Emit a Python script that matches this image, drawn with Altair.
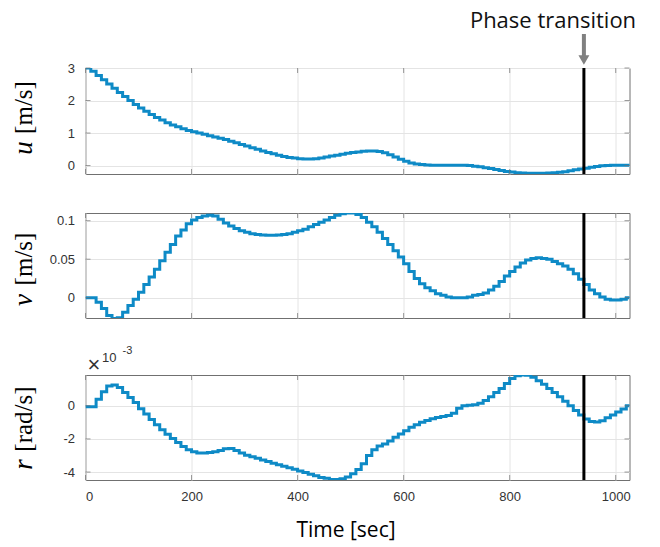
import altair as alt
import pandas as pd

# ---------------- data ----------------
time_s = list(range(0, 1040, 10))

u_vals = [3.0, 2.9, 2.77, 2.64, 2.51, 2.38, 2.25, 2.12, 2.0, 1.88,
          1.77, 1.67, 1.57, 1.48, 1.4, 1.32, 1.25, 1.19, 1.13, 1.08,
          1.04, 1.0, 0.96, 0.92, 0.88, 0.84, 0.8, 0.75, 0.7, 0.65,
          0.6, 0.55, 0.5, 0.45, 0.4, 0.36, 0.32, 0.28, 0.25, 0.23,
          0.21, 0.2, 0.2, 0.21, 0.23, 0.26, 0.29, 0.32, 0.35, 0.38,
          0.4, 0.42, 0.44, 0.45, 0.45, 0.43, 0.39, 0.33, 0.26, 0.19,
          0.13, 0.08, 0.05, 0.03, 0.02, 0.01, 0.01, 0.01, 0.01, 0.01,
          0.01, 0.01, 0.0, -0.02, -0.04, -0.07, -0.09, -0.12, -0.15, -0.18,
          -0.2, -0.22, -0.23, -0.24, -0.24, -0.24, -0.24, -0.23, -0.22, -0.21,
          -0.19, -0.16, -0.13, -0.11, -0.08, -0.05, -0.03, -0.01, 0.0, 0.01,
          0.01, 0.01, 0.01, 0.01]

v_vals = [0.0, 0.0, -0.006, -0.014, -0.023, -0.027, -0.026, -0.019, -0.01, -0.002,
          0.007, 0.017, 0.027, 0.037, 0.048, 0.059, 0.069, 0.08, 0.088, 0.096,
          0.101, 0.104, 0.106, 0.107, 0.106, 0.102, 0.097, 0.093, 0.09, 0.087,
          0.085, 0.083, 0.082, 0.0815, 0.081, 0.081, 0.0815, 0.082, 0.083, 0.085,
          0.087, 0.089, 0.092, 0.095, 0.098, 0.101, 0.104, 0.107, 0.109, 0.11,
          0.11, 0.108, 0.104, 0.098, 0.092, 0.085, 0.077, 0.069, 0.061, 0.053,
          0.044, 0.034, 0.025, 0.018, 0.013, 0.009, 0.005, 0.003, 0.001, 0.0,
          0.0, 0.0, 0.001, 0.003, 0.004, 0.006, 0.01, 0.015, 0.021, 0.028,
          0.034, 0.04, 0.045, 0.049, 0.051, 0.052, 0.051, 0.05, 0.047, 0.044,
          0.041, 0.037, 0.031, 0.024, 0.017, 0.01, 0.005, 0.001, -0.002, -0.003,
          -0.003, -0.002, 0.0, 0.0]

r_vals = [-0.05, -0.05, 0.4, 0.85, 1.2, 1.25, 1.1, 0.8, 0.5, 0.2,
          -0.18, -0.5, -0.82, -1.14, -1.44, -1.72, -1.98, -2.22, -2.45, -2.65,
          -2.78, -2.85, -2.85, -2.82, -2.77, -2.7, -2.6, -2.58, -2.7, -2.85,
          -2.98, -3.08, -3.17, -3.27, -3.37, -3.47, -3.56, -3.65, -3.74, -3.83,
          -3.93, -4.03, -4.13, -4.23, -4.33, -4.38, -4.45, -4.45, -4.4, -4.3,
          -4.1, -3.85, -3.5, -3.0, -2.65, -2.42, -2.3, -2.12, -1.9, -1.7,
          -1.5, -1.3, -1.15, -1.0, -0.88, -0.78, -0.7, -0.65, -0.58, -0.45,
          -0.15, 0.0, 0.04, 0.06, 0.15, 0.32, 0.55, 0.8, 1.05, 1.35,
          1.65, 1.82, 1.86, 1.85, 1.72, 1.52, 1.3, 1.05, 0.8, 0.55,
          0.28, 0.0, -0.28, -0.55, -0.8, -0.95, -0.98, -0.9, -0.72, -0.55,
          -0.38, -0.2, 0.0, 0.05]

x_ticks = [0, 200, 400, 600, 800, 1000]
u_ticks = [0, 1, 2, 3]
v_ticks = [0, 0.05, 0.1]
r_ticks = [-4, -2, 0]

panel_letters = ["u", "v", "r"]
panel_units = ["[m/s]", "[m/s]", "[rad/s]"]
x_title = "Time [sec]"
phase_label = "Phase transition"
phase_time = 940
exp_parts = ["×", "10", "-3"]

# ---------------- style ----------------
W = 544
BLUE = "#0e8ac6"
BOX = "#707070"
GRID = "#e4e4e4"
LABEL = "#333333"
SANS = "Liberation Sans"
SERIF = "Liberation Serif"
XDOM = [0, 1026]
TITLE_X = -53.5


def one(**kw):
    return pd.DataFrame({k: [v] for k, v in kw.items()})


def spacer(top_px):
    # invisible element that reserves space above a panel in the layout
    return alt.Chart(one(k=0)).mark_rule(opacity=0).encode(
        x=alt.value(0), y=alt.value(-top_px), y2=alt.value(0))


def x_axis(bottom):
    if bottom:
        return alt.Axis(values=x_ticks, grid=True, gridColor=GRID, ticks=False, domain=False,
                        labels=True, labelFont=SANS, labelFontSize=13, labelColor=LABEL,
                        labelPadding=10, labelExpr="datum.value + ''",
                        title=x_title, titleFont="Open Sans",
                        titleFontSize=21, titleFontWeight="normal", titleColor="#000000",
                        titleX=260, titleY=56, titleBaseline="alphabetic", titleAlign="center")
    return alt.Axis(values=x_ticks, grid=True, gridColor=GRID, ticks=False, domain=False,
                    labels=False, title=None)


def y_axis(yticks):
    return alt.Axis(values=yticks, grid=True, gridColor=GRID, ticks=False, domain=False,
                    labelFont=SANS, labelFontSize=13, labelColor=LABEL, labelPadding=11,
                    labelExpr="datum.value + ''", title=None)


def panel(var, vals, domain, yticks, height, letter, unit, unit_y, letter_y, bottom):
    df = pd.DataFrame({"t": time_s, var: vals})
    xs = alt.Scale(domain=XDOM, nice=False, zero=False)
    ys = alt.Scale(domain=domain, nice=False, zero=False)
    xa = x_axis(bottom)
    ya = y_axis(yticks)

    line = alt.Chart(df).mark_line(
        interpolate="step-after", color=BLUE, strokeWidth=3, clip=True
    ).encode(
        x=alt.X("t:Q", scale=xs, axis=xa),
        y=alt.Y(f"{var}:Q", scale=ys, axis=ya),
    )
    phase = alt.Chart(one(pt=phase_time)).mark_rule(color="black", strokeWidth=3).encode(
        x=alt.X("pt:Q", scale=xs, axis=xa)
    )
    xt = pd.DataFrame({"xt": x_ticks})
    yt = pd.DataFrame({"yt": yticks})
    tick_style = dict(color=BOX, thickness=1, size=5)
    xt_bot = alt.Chart(xt).mark_tick(orient="vertical", **tick_style).encode(
        x=alt.X("xt:Q", scale=xs, axis=xa), y=alt.value(height - 2.5))
    xt_top = alt.Chart(xt).mark_tick(orient="vertical", **tick_style).encode(
        x=alt.X("xt:Q", scale=xs, axis=xa), y=alt.value(2.5))
    yt_l = alt.Chart(yt).mark_tick(orient="horizontal", **tick_style).encode(
        y=alt.Y("yt:Q", scale=ys, axis=ya), x=alt.value(2.5))
    yt_r = alt.Chart(yt).mark_tick(orient="horizontal", **tick_style).encode(
        y=alt.Y("yt:Q", scale=ys, axis=ya), x=alt.value(W - 2.5))

    unit_t = alt.Chart(one(s=unit)).mark_text(
        font=SERIF, fontSize=25, angle=270, align="center", baseline="alphabetic", color="black"
    ).encode(x=alt.value(TITLE_X), y=alt.value(unit_y), text="s:N")
    letter_t = alt.Chart(one(s=letter)).mark_text(
        font=SERIF, fontSize=27, fontStyle="italic", angle=270, align="center",
        baseline="alphabetic", color="black"
    ).encode(x=alt.value(TITLE_X), y=alt.value(letter_y), text="s:N")

    return [line, phase, xt_bot, xt_top, yt_l, yt_r, unit_t, letter_t], xs


top_layers, xs_top = panel("u", u_vals, [-0.26, 3.0], u_ticks, 106, panel_letters[0], panel_units[0], 39.5, 80, False)
mid_layers, _ = panel("v", v_vals, [-0.0264, 0.11], v_ticks, 105, panel_letters[1], panel_units[1], 46, 87, False)
bot_layers, _ = panel("r", r_vals, [-4.48, 1.86], r_ticks, 105, panel_letters[2], panel_units[2], 44, 89.5, True)

# annotation above top panel
ann_text = alt.Chart(one(s=phase_label)).mark_text(
    font="Open Sans", fontSize=22, align="center", baseline="alphabetic", color="#111111"
).encode(x=alt.value(467.5), y=alt.value(-40), text="s:N")
arrow_shaft = alt.Chart(one(pt=phase_time)).mark_rule(color="#808080", strokeWidth=4).encode(
    x=alt.X("pt:Q", scale=xs_top, axis=x_axis(False)),
    y=alt.value(-34), y2=alt.value(-12))
arrow_head = alt.Chart(one(pt=phase_time)).mark_point(
    shape="triangle-down", filled=True, color="#808080", size=120, opacity=1
).encode(
    x=alt.X("pt:Q", scale=xs_top, axis=x_axis(False)),
    y=alt.value(-8))

# exponent label above bottom panel
exp_x = alt.Chart(one(s=exp_parts[0])).mark_text(
    font=SANS, fontSize=22, align="center", baseline="middle", color=LABEL
).encode(x=alt.value(8.5), y=alt.value(-10), text="s:N")
exp_10 = alt.Chart(one(s=exp_parts[1])).mark_text(
    font=SANS, fontSize=13, align="left", baseline="alphabetic", color=LABEL
).encode(x=alt.value(16.5), y=alt.value(-13), text="s:N")
exp_3 = alt.Chart(one(s=exp_parts[2])).mark_text(
    font=SANS, fontSize=11, align="left", baseline="alphabetic", color=LABEL
).encode(x=alt.value(37), y=alt.value(-21), text="s:N")

top = alt.layer(*top_layers, ann_text, arrow_shaft, arrow_head).properties(width=W, height=106)
mid = alt.layer(*mid_layers, spacer(22)).properties(width=W, height=105)
bot = alt.layer(*bot_layers, exp_x, exp_10, exp_3, spacer(40)).properties(width=W, height=105)

chart = alt.vconcat(top, mid, bot, spacing=14).properties(
    padding={"left": 1.5, "top": 1, "right": 5, "bottom": 5}
).configure_view(stroke=BOX, strokeWidth=1)

chart.save("out.html", embed_options={"renderer": "svg", "actions": False})
